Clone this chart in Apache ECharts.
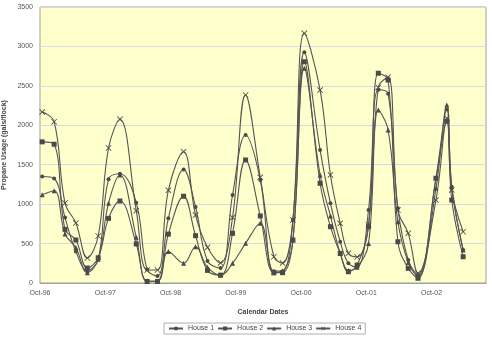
<!DOCTYPE html>
<html>
<head>
<meta charset="utf-8">
<script src="https://cdn.jsdelivr.net/npm/echarts@6/dist/echarts.min.js"></script>
<style>
  html, body { margin: 0; padding: 0; background: #ffffff; }
  #chart { width: 492px; height: 338px; }
</style>
</head>
<body>
<div id="chart"></div>
<script>
// months since Oct-96 of each reading
const months = [0.4, 2.6, 4.6, 6.6, 8.7, 10.7, 12.6, 14.7, 17.7, 19.7, 21.6, 23.6, 26.4, 28.6, 30.8, 33.2, 35.4, 37.8, 40.5, 43.0,
  44.6, 46.5, 48.6, 51.5, 53.4, 55.2, 56.7, 58.3, 60.4, 62.2, 64.0, 65.8, 67.7, 69.5, 72.8, 74.8, 75.7, 77.8];
const tickLabels = ['Oct-96', 'Oct-97', 'Oct-98', 'Oct-99', 'Oct-00', 'Oct-01', 'Oct-02'];

const house1 = [1350, 1325, 830, 400, 160, 300, 1315, 1385, 1018, 170, 90, 820, 1440, 965, 280, 190, 1116, 1877, 1306, 150,
  150, 800, 2925, 1686, 1010, 523, 250, 200, 925, 2450, 2400, 947, 292, 100, 1328, 2200, 1221, 418];
const house2 = [1790, 1760, 680, 545, 190, 320, 820, 1040, 495, 20, 20, 620, 1100, 600, 160, 100, 630, 1560, 850, 131,
  131, 545, 2806, 1264, 714, 376, 143, 228, 714, 2660, 2574, 523, 186, 60, 1328, 2050, 1052, 333];
const house3 = [1120, 1170, 620, 450, 130, 300, 1010, 1370, 580, 20, 20, 400, 250, 460, 200, 100, 250, 503, 757, 131,
  150, 545, 2722, 1370, 850, 376, 160, 200, 500, 2193, 1940, 777, 260, 80, 1200, 2257, 1221, 420];
const house4 = [2170, 2045, 1014, 761, 317, 596, 1712, 2076, 917, 165, 165, 1175, 1665, 862, 453, 254, 830, 2384, 1340, 333,
  253, 800, 3166, 2447, 1370, 757, 376, 330, 740, 2480, 2610, 925, 630, 123, 1052, 2090, 1180, 650];

const names = ['House 1', 'House 2', 'House 3', 'House 4'];
const values = [house1, house2, house3, house4];
const symbols = ['circle', 'rect', 'triangle',
  'path://M0,1L1,0L5,4L9,0L10,1L6,5L10,9L9,10L5,6L1,10L0,9L4,5Z'];
const sizes = [4, 5, 5, 6];

function pairs(arr) {
  return arr.map(function (v, i) { return [months[i], v]; });
}

const chart = echarts.init(document.getElementById('chart'));
const font = 'Liberation Sans, Arial, sans-serif';

chart.setOption({
  animation: false,
  textStyle: { fontFamily: font },
  grid: {
    left: 40, right: 6, top: 7, bottom: 55,
    outerBoundsMode: 'none',
    containLabel: false,
    show: true,
    backgroundColor: '#ffffcc',
    borderColor: '#a0a0a0',
    borderWidth: 1
  },
  legend: {
    bottom: 4,
    left: 164,
    padding: [2, 4],
    borderColor: '#b0b0b0',
    borderWidth: 1,
    itemWidth: 14,
    itemHeight: 5,
    itemGap: 3,
    textStyle: { fontSize: 7, color: '#444', fontFamily: font },
    data: names
  },
  xAxis: {
    type: 'value',
    min: 0,
    max: 82,
    interval: 12,
    name: 'Calendar Dates',
    nameLocation: 'middle',
    nameGap: 26,
    nameMoveOverlap: false,
    nameTextStyle: { fontSize: 7, fontWeight: 'bold', color: '#444' },
    axisLine: { lineStyle: { color: '#a0a0a0' } },
    axisTick: { show: false },
    splitLine: { show: false },
    axisLabel: {
      fontSize: 7, color: '#555', margin: 7,
      formatter: function (v) { return tickLabels[Math.round(v / 12)] || ''; }
    }
  },
  yAxis: {
    type: 'value',
    min: 0,
    max: 3500,
    interval: 500,
    name: 'Propane Usage (gals/flock)',
    nameLocation: 'middle',
    nameGap: 32,
    nameMoveOverlap: false,
    nameTextStyle: { fontSize: 7, fontWeight: 'bold', color: '#444' },
    axisLine: { show: false },
    axisTick: { show: false },
    splitLine: { lineStyle: { color: '#d6d8e6', width: 1 } },
    axisLabel: { fontSize: 7, color: '#555', margin: 7, formatter: function (v) { return String(v); } }
  },
  series: names.map(function (n, k) {
    return {
      name: n,
      type: 'line',
      smooth: 0.4,
      symbol: symbols[k],
      symbolSize: sizes[k],
      showAllSymbol: true,
      lineStyle: { color: '#555555', width: 1.1 },
      itemStyle: { color: '#4a4a4a' },
      data: pairs(values[k])
    };
  })
});
</script>
</body>
</html>
